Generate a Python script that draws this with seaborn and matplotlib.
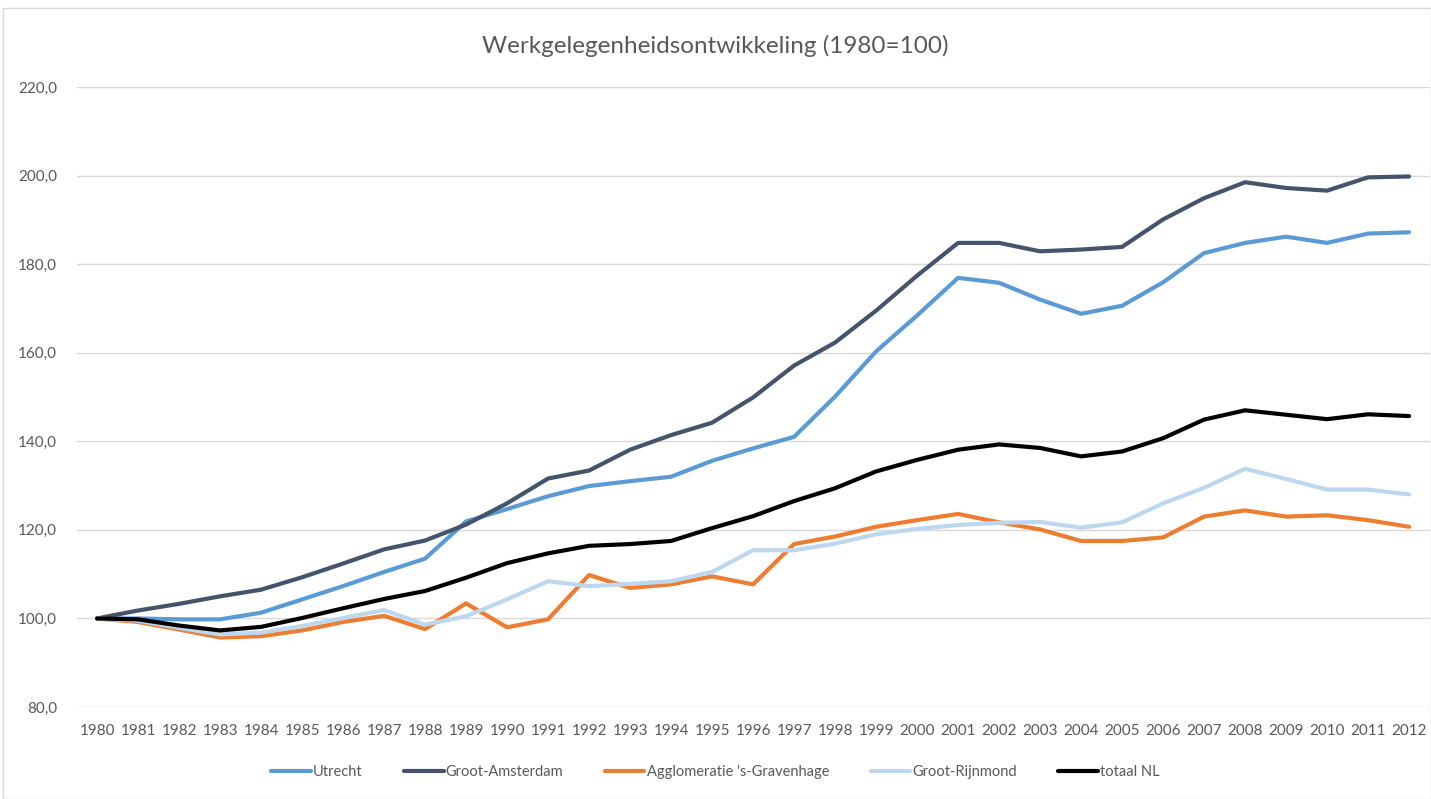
import matplotlib
matplotlib.use("Agg")
import matplotlib.pyplot as plt
import seaborn as sns
import pandas as pd
from matplotlib.lines import Line2D
from matplotlib.patches import Rectangle

years = list(range(1980, 2013))

utrecht = [100.0, 100.0, 99.8, 99.8, 101.3, 104.3, 107.3, 110.5, 113.5, 121.9, 124.7,
           127.6, 129.9, 131.0, 132.0, 135.6, 138.4, 141.0, 150.1, 160.3, 168.4,
           176.9, 175.8, 172.0, 168.8, 170.6, 175.9, 182.5, 184.8, 186.2, 184.8,
           186.9, 187.2]
amsterdam = [100.0, 101.8, 103.3, 105.0, 106.5, 109.3, 112.4, 115.6, 117.6, 121.2, 126.0,
             131.6, 133.4, 138.1, 141.4, 144.2, 149.9, 157.1, 162.3, 169.5, 177.4,
             184.8, 184.8, 182.9, 183.3, 183.9, 190.1, 194.9, 198.5, 197.2, 196.6,
             199.6, 199.8]
gravenhage = [100.0, 99.2, 97.5, 95.7, 96.0, 97.3, 99.2, 100.6, 97.6, 103.4, 98.0,
              99.8, 109.8, 106.9, 107.7, 109.5, 107.7, 116.8, 118.5, 120.7, 122.2,
              123.6, 121.7, 120.1, 117.5, 117.5, 118.3, 123.0, 124.4, 123.0, 123.3,
              122.2, 120.7]
rijnmond = [100.0, 99.5, 97.9, 96.4, 96.8, 98.3, 100.1, 101.9, 98.6, 100.5, 104.3,
            108.4, 107.3, 107.8, 108.4, 110.5, 115.4, 115.4, 116.9, 119.0, 120.2,
            121.1, 121.6, 121.8, 120.5, 121.7, 126.0, 129.5, 133.8, 131.5, 129.1,
            129.1, 128.0]
totaal = [100.0, 99.8, 98.4, 97.3, 98.1, 100.1, 102.3, 104.4, 106.2, 109.2, 112.5,
          114.7, 116.4, 116.8, 117.5, 120.4, 123.1, 126.5, 129.4, 133.2, 135.8,
          138.1, 139.3, 138.5, 136.6, 137.7, 140.7, 144.9, 147.0, 146.0, 145.0,
          146.1, 145.7]

series_names = ["Utrecht", "Groot-Amsterdam", "Agglomeratie 's-Gravenhage",
                "Groot-Rijnmond", "totaal NL"]
series_values = [utrecht, amsterdam, gravenhage, rijnmond, totaal]
colors = ["#5B9BD5", "#44546A", "#ED7D31", "#BDD7EE", "#000000"]

y_ticks = [80, 100, 120, 140, 160, 180, 200, 220]
title = "Werkgelegenheidsontwikkeling (1980=100)"

rows = []
for name, vals in zip(series_names, series_values):
    for yr, v in zip(years, vals):
        rows.append({"year": yr, "value": v, "region": name})
df = pd.DataFrame(rows)

sns.set_theme(style="white")
plt.rcParams["font.family"] = ["Liberation Sans Narrow", "Lato", "DejaVu Sans"]

fig = plt.figure(figsize=(14.31, 7.99), dpi=100)
ax = fig.add_axes([0.0535, 0.1151, 0.9455, 0.776])

sns.lineplot(data=df, x="year", y="value", hue="region", hue_order=series_names,
             palette=dict(zip(series_names, colors)), linewidth=3.0, ax=ax,
             legend=False, sort=False)

ax.set_xlim(years[0] - 0.5, years[-1] + 0.5)
ax.set_ylim(80, 220)
ax.set_yticks(y_ticks)
ax.set_yticklabels([f"{t:.1f}".replace(".", ",") for t in y_ticks])
ax.set_xticks(years)
ax.set_xticklabels([str(y) for y in years])
ax.tick_params(axis="both", length=0, labelsize=11, colors="#595959")
ax.tick_params(axis="y", pad=14)
ax.tick_params(axis="x", pad=12)
ax.set_xlabel("")
ax.set_ylabel("")
ax.yaxis.grid(True, color="#d9d9d9", linewidth=1.0)
ax.xaxis.grid(False)
ax.set_axisbelow(True)
for s in ["top", "right", "left", "bottom"]:
    ax.spines[s].set_visible(False)

fig.text(0.5, 0.943, title, ha="center", va="center", fontsize=17.5, color="#595959")

handles = [Line2D([0], [0], color=c, lw=3.0) for c in colors]
fig.legend(handles, series_names, loc="center", bbox_to_anchor=(0.5, 0.034), ncol=5,
           frameon=False, fontsize=10.5, handlelength=2.7, handletextpad=0.15,
           columnspacing=2.85, labelcolor="#595959")

fig.patches.append(Rectangle((0.002, 0.0), 0.998, 0.99, transform=fig.transFigure,
                             fill=False, edgecolor="#d9d9d9", linewidth=1.0))

fig.savefig("out.png", dpi=100)
